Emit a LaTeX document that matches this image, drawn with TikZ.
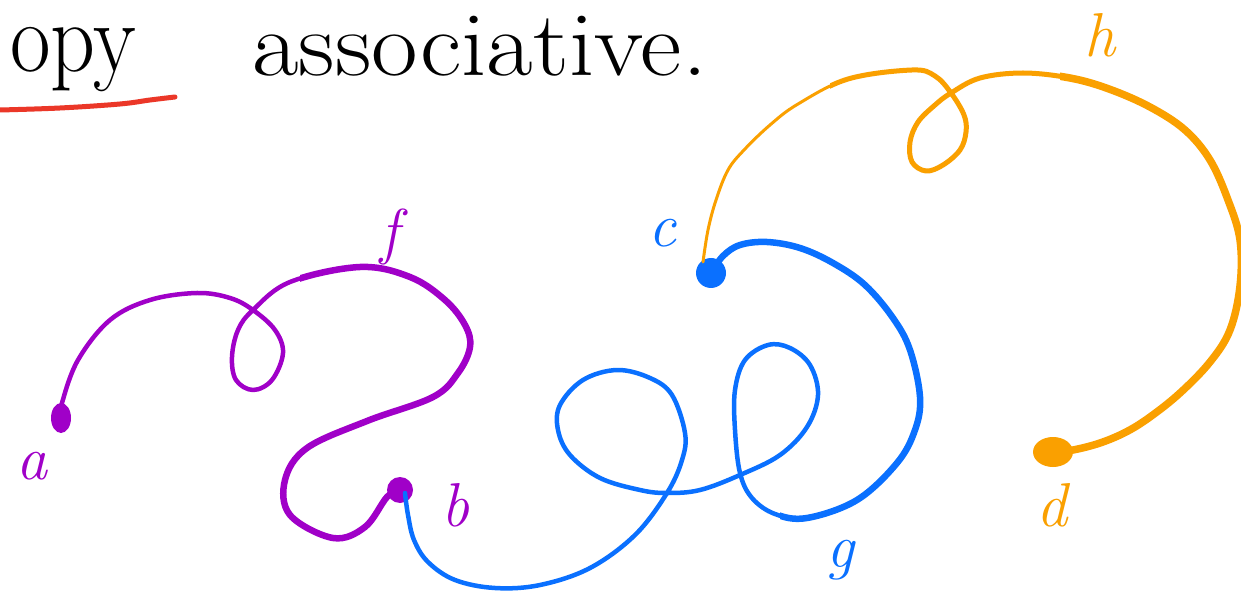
\documentclass[tikz,border=0pt]{standalone}
\usepackage{fontspec}
\definecolor{fpurple}{RGB}{160,0,200}
\definecolor{gblue}{RGB}{10,112,255}
\definecolor{horange}{RGB}{250,160,0}
\definecolor{ulred}{RGB}{235,55,40}
\tikzset{
  curve/.style={line cap=round,line join=round},
  lbl/.style={inner sep=0pt,font=\fontsize{62}{62}\selectfont\itshape},
  ttl/.style={inner sep=0pt,anchor=base west},
}
\begin{document}
\begin{tikzpicture}[x=1pt,y=-1pt]
\useasboundingbox (0,0) rectangle (1241,601);
\clip (0,0) rectangle (1241,601);
\fill[white] (0,0) rectangle (1241,601);

% title text
\node[ttl,xscale=0.88,font=\fontsize{100}{100}\selectfont] (t1) at (10,72) {opy};
\node[ttl,xscale=1.1,font=\fontsize{92}{92}\selectfont] (t2) at (252,76) {associative.};
\draw[ulred,line width=5pt,curve] plot[smooth,tension=0.6] coordinates {(0,110) (60,108) (120,104) (150,100) (175,97)};

% end points
\fill[fpurple] (61,418) ellipse [x radius=10,y radius=15];
\coordinate (a) at (61,418);
\fill[fpurple] (400,490) circle (13);
\coordinate (b) at (400,490);
\fill[gblue] (711,273) circle (15);
\coordinate (c) at (711,273);
\fill[horange] (1053,452) ellipse [x radius=20,y radius=15];
\coordinate (d) at (1053,452);

% f (purple)
\def\fpath{plot[smooth,tension=0.6] coordinates {
 (a) (62,403) (78,360) (110,320) (150,300) (197,293) (230,298) (253,310)
 (275,330) (283,353) (272,380) (253,390) (236,380) (232,357) (238,330) (253,310)
 (290,282) (360,267) (410,277) (445,300) (465,325) (470,347) (458,373) (433,397)
 (367,421) (307,448) (285,480) (290,515) (333,538) (365,527) (387,497) (b)}}
\draw[fpurple,line width=4.5pt,curve] \fpath;
\begin{scope}
\clip (300,0) -- (520,0) -- (520,601) -- (260,601) -- (260,410) -- (300,400) -- cycle;
\draw[fpurple,line width=6.5pt,curve] \fpath;
\end{scope}

% g (blue)
\def\gpath{plot[smooth,tension=0.6] coordinates {
 (405,493) (408,515) (414,540) (428,562) (455,580) (495,588) (540,585) (590,568)
 (635,535) (667,493) (682,460) (685,433) (672,395) (650,378) (617,370) (583,380)
 (560,405) (558,430) (570,455) (600,478) (640,490) (667,493) (700,490) (740,475)
 (780,455) (807,427) (818,395) (810,365) (790,348) (768,345) (745,360) (735,390)
 (735,430) (740,473) (752,498) (775,514) (807,518) (857,500) (897,463) (915,430)
 (920,397) (910,350) (893,318) (865,285) (833,263) (800,248) (767,242) (740,245)
 (723,256) (c)}}
\draw[gblue,line width=4.5pt,curve] \gpath;
\begin{scope}
\clip (780,601) -- (780,505) -- (850,430) -- (850,300) -- (690,300) -- (690,200)
      -- (1000,200) -- (1000,601) -- cycle;
\draw[gblue,line width=6.5pt,curve] \gpath;
\end{scope}

% h (orange)
\def\hpath{plot[smooth,tension=0.6] coordinates {
 (703,262) (708,230) (716,200) (728,170) (744,150) (770,125) (798,104) (848,79)
 (912,70) (935,76) (951,93) (964,115) (966,132) (960,150) (943,165) (926,171)
 (912,162) (910,142) (918,122) (935,105) (951,93) (980,78) (1023,73) (1070,78)
 (1109,89) (1150,107) (1185,130) (1210,160) (1228,200) (1240,240) (1240,286)
 (1230,330) (1210,362) (1180,393) (1150,417) (1126,432) (1100,443) (1073,450) (d)}}
\draw[horange,line width=3pt,curve] \hpath;
\begin{scope}
\clip (830,0) rectangle (1241,601);
\draw[horange,line width=5pt,curve] \hpath;
\end{scope}
\begin{scope}
\clip (1060,0) rectangle (1241,601);
\draw[horange,line width=7.5pt,curve] \hpath;
\end{scope}

% labels
\node[lbl,fpurple] (la) at (32,466) {a};
\node[lbl,fpurple] (lf) at (390,237) {f};
\node[lbl,fpurple] (lb) at (455,505) {b};
\node[lbl,gblue] (lc) at (662,233) {c};
\node[lbl,gblue] (lg) at (840,560) {g};
\node[lbl,horange] (lh) at (1100,35) {h};
\node[lbl,horange] (ld) at (1052,505) {d};
\end{tikzpicture}
\end{document}
